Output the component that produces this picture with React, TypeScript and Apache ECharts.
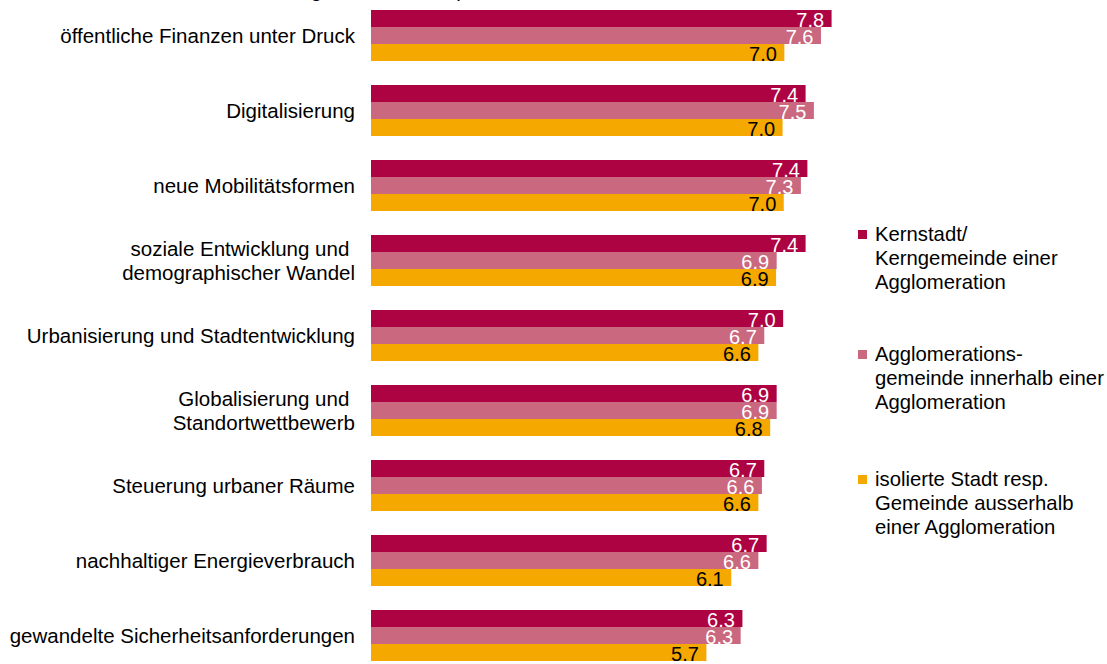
import React, { useEffect, useRef } from "react";
import * as echarts from "echarts";

const categories = [
  "öffentliche Finanzen unter Druck",
  "Digitalisierung",
  "neue Mobilitätsformen",
  "soziale Entwicklung und \ndemographischer Wandel",
  "Urbanisierung und Stadtentwicklung",
  "Globalisierung und \nStandortwettbewerb",
  "Steuerung urbaner Räume",
  "nachhaltiger Energieverbrauch",
  "gewandelte Sicherheitsanforderungen",
];

const seriesNames = [
  "Kernstadt/\nKerngemeinde einer\nAgglomeration",
  "Agglomerations-\ngemeinde innerhalb einer\nAgglomeration",
  "isolierte Stadt resp.\nGemeinde ausserhalb\neiner Agglomeration",
];

// mean values (labels show one decimal)
const kernstadt = [7.8, 7.36, 7.39, 7.36, 6.98, 6.87, 6.66, 6.7, 6.29];
const agglo = [7.62, 7.5, 7.28, 6.87, 6.66, 6.87, 6.62, 6.56, 6.26];
const isoliert = [7.0, 6.97, 6.99, 6.86, 6.56, 6.76, 6.56, 6.1, 5.68];

const colors = ["#AE0343", "#C9687E", "#F5A800"];
const labelColors = ["#ffffff", "#ffffff", "#000000"];
const titleText = "Mittelwerte nach Einordnung der Städte resp. der Gemeinden im Raum";

const FONT = "'Liberation Sans', Arial, sans-serif";

export default function App() {
  const ref = useRef<HTMLDivElement>(null);
  useEffect(() => {
    if (!ref.current) return;
    const chart = echarts.init(ref.current, null, { renderer: "svg" });
    const values = [kernstadt, agglo, isoliert];
    const legendSquareTops = [230, 350, 475];
    const graphic: any[] = [
      {
        type: "text",
        x: 62,
        y: 0,
        style: {
          text: titleText,
          font: `20.5px ${FONT}`,
          fill: "#000",
          verticalAlign: "bottom",
        },
      },
    ];
    seriesNames.forEach((n, i) => {
      graphic.push({
        type: "rect",
        shape: { x: 858, y: legendSquareTops[i], width: 9, height: 9 },
        style: { fill: colors[i] },
      });
      graphic.push({
        type: "text",
        x: 875,
        y: legendSquareTops[i] - 8,
        style: { text: n, font: `20.3px ${FONT}`, fill: "#000", lineHeight: 24 },
      });
    });
    chart.setOption({
      animation: false,
      textStyle: { fontFamily: FONT },
      grid: {
        left: 371,
        width: 590.5,
        top: -2,
        height: 675,
        containLabel: false,
        outerBoundsMode: "none",
      },
      xAxis: { type: "value", min: 0, max: 10, show: false },
      yAxis: {
        type: "category",
        data: categories,
        inverse: true,
        axisLine: { show: false },
        axisTick: { show: false },
        axisLabel: {
          fontSize: 20.5,
          color: "#000",
          margin: 16,
          lineHeight: 24,
          fontFamily: FONT,
        },
      },
      series: values.map((v, i) => ({
        type: "bar",
        name: seriesNames[i],
        data: v,
        barGap: "0%",
        barCategoryGap: "32%",
        itemStyle: { color: colors[i] },
        label: {
          show: true,
          position: "insideRight",
          distance: 7.5,
          offset: [0, 1.5],
          fontSize: 20,
          color: labelColors[i],
          fontFamily: FONT,
          formatter: (p: any) => Number(p.value).toFixed(1),
        },
      })),
      graphic,
    });
    return () => chart.dispose();
  }, []);
  return (
    <div
      ref={ref}
      style={{ position: "fixed", left: 0, top: 0, width: 1107, height: 664, background: "#fff" }}
    />
  );
}
